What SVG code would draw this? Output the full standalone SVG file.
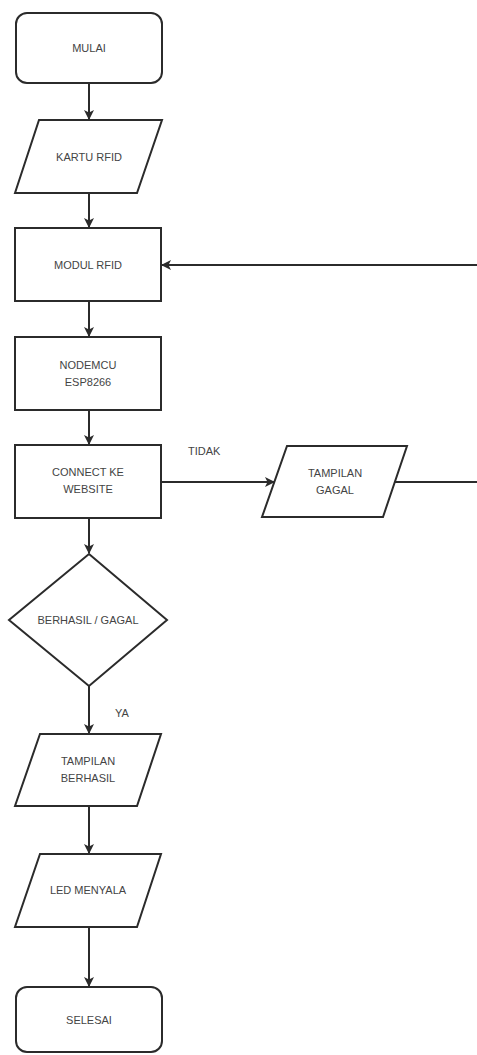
<svg xmlns="http://www.w3.org/2000/svg" width="477" height="1055" viewBox="0 0 477 1055">
  <style>
    .shape { fill: #ffffff; stroke: #2b2b2b; stroke-width: 2; }
    .edge { fill: none; stroke: #2b2b2b; stroke-width: 2; }
    .lbl { font-family: "Liberation Sans", Arial, sans-serif; font-size: 11px; fill: #444; text-anchor: middle; dominant-baseline: central; }
    .note { font-family: "Liberation Sans", Arial, sans-serif; font-size: 11px; fill: #444; }
  </style>
  <defs>
    <marker id="arrow" viewBox="0 0 10 10" refX="9" refY="5" markerWidth="10" markerHeight="10" markerUnits="userSpaceOnUse" orient="auto">
      <path d="M0,0 L10,5 L0,10 L2.5,5 Z" fill="#2b2b2b"/>
    </marker>
  </defs>
  <rect width="477" height="1055" fill="#ffffff"/>

  <g id="connectors">
    <path class="edge" d="M89,83 V119" marker-end="url(#arrow)"/>
    <path class="edge" d="M89,193 V227" marker-end="url(#arrow)"/>
    <path class="edge" d="M89,301 V336" marker-end="url(#arrow)"/>
    <path class="edge" d="M89,410 V444" marker-end="url(#arrow)"/>
    <path class="edge" d="M89,518 V553" marker-end="url(#arrow)"/>
    <path class="edge" d="M89,686 V733" marker-end="url(#arrow)"/>
    <path class="edge" d="M89,806 V853" marker-end="url(#arrow)"/>
    <path class="edge" d="M89,927 V986" marker-end="url(#arrow)"/>
    <path class="edge" d="M161,482 H274" marker-end="url(#arrow)"/>
    <path class="edge" d="M395,482 H490 V265 H162" marker-end="url(#arrow)"/>
    <text class="note" x="188" y="455">TIDAK</text>
    <text class="note" x="115" y="717">YA</text>
  </g>

  <g id="mulai">
    <rect class="shape" x="16" y="13" width="146" height="70" rx="11"/>
    <text class="lbl" x="89" y="48">MULAI</text>
  </g>
  <g id="kartu-rfid">
    <polygon class="shape" points="39,120 162,120 137,193 15,193"/>
    <text class="lbl" x="89" y="157">KARTU RFID</text>
  </g>
  <g id="modul-rfid">
    <rect class="shape" x="15" y="228" width="146" height="73"/>
    <text class="lbl" x="88" y="265">MODUL RFID</text>
  </g>
  <g id="nodemcu">
    <rect class="shape" x="15" y="337" width="146" height="73"/>
    <text class="lbl" x="88" y="365">NODEMCU</text>
    <text class="lbl" x="88" y="382">ESP8266</text>
  </g>
  <g id="connect-website">
    <rect class="shape" x="15" y="445" width="146" height="73"/>
    <text class="lbl" x="88" y="472">CONNECT KE</text>
    <text class="lbl" x="88" y="489">WEBSITE</text>
  </g>
  <g id="tampilan-gagal">
    <polygon class="shape" points="287,446 407,446 383,517 262,517"/>
    <text class="lbl" x="335" y="473">TAMPILAN</text>
    <text class="lbl" x="335" y="490">GAGAL</text>
  </g>
  <g id="berhasil-gagal">
    <polygon class="shape" points="89,554 167,620 89,686 9,620"/>
    <text class="lbl" x="88" y="620">BERHASIL / GAGAL</text>
  </g>
  <g id="tampilan-berhasil">
    <polygon class="shape" points="40,734 161,734 137,806 15,806"/>
    <text class="lbl" x="88" y="761">TAMPILAN</text>
    <text class="lbl" x="88" y="778">BERHASIL</text>
  </g>
  <g id="led-menyala">
    <polygon class="shape" points="40,854 161,854 137,927 15,927"/>
    <text class="lbl" x="88" y="890">LED MENYALA</text>
  </g>
  <g id="selesai">
    <rect class="shape" x="16" y="987" width="146" height="65" rx="11"/>
    <text class="lbl" x="89" y="1020">SELESAI</text>
  </g>
</svg>
